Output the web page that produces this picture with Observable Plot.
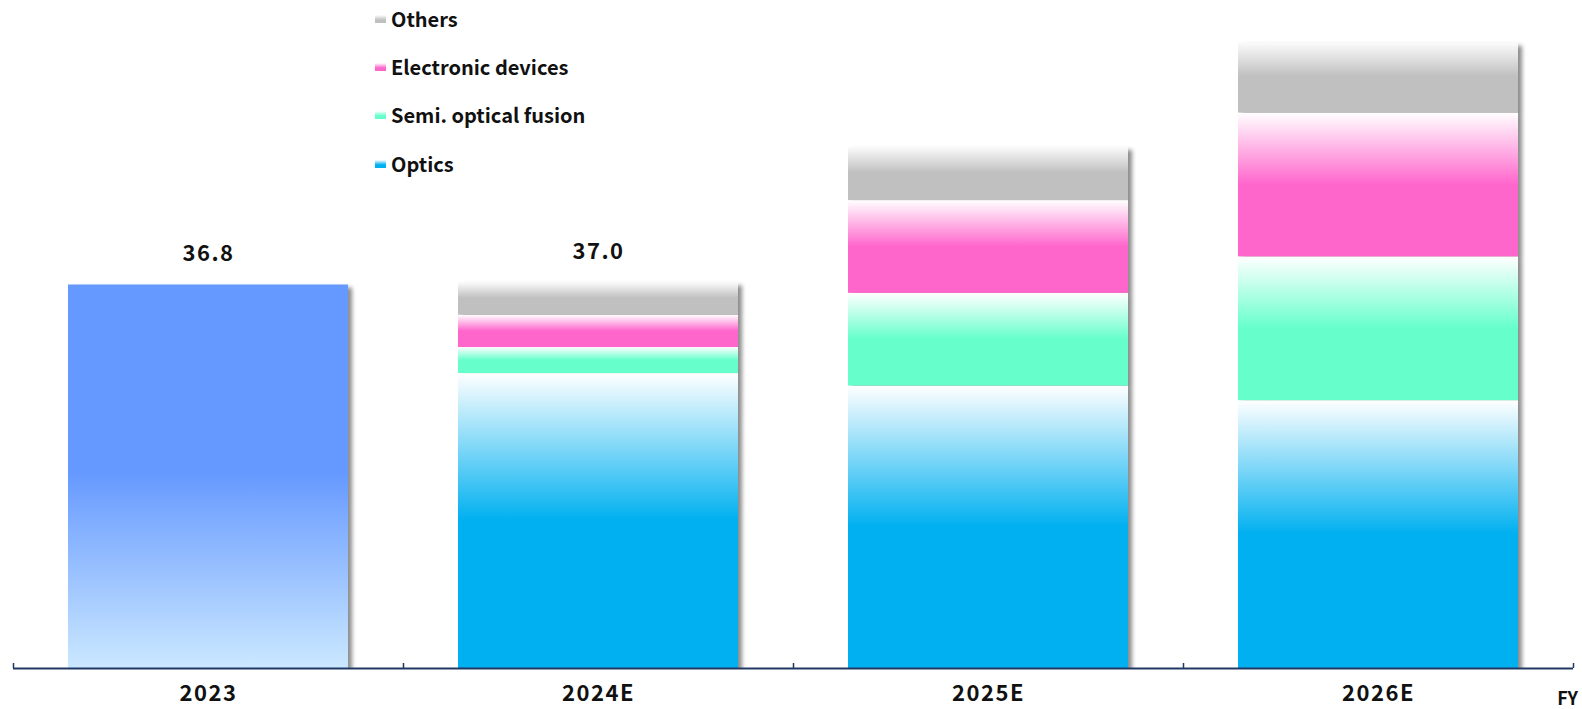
<!DOCTYPE html>
<html>
<head>
<meta charset="utf-8">
<script src="https://cdn.jsdelivr.net/npm/d3@7"></script>
<script src="https://cdn.jsdelivr.net/npm/@observablehq/plot@0.6"></script>
<style>
  html, body { margin: 0; padding: 0; background: #fff; }
  #wrap {
    position: relative; width: 1582px; height: 709px; overflow: hidden;
    font-family: "Noto Sans CJK JP", "Noto Sans", sans-serif; font-weight: 700; color: #111;
  }
  #legend { position: absolute; left: 375px; top: 0; }
  .row {
    position: absolute; left: 0; display: flex; align-items: center;
    white-space: nowrap; font-size: 20px; line-height: 20px;
  }
  .sw { width: 11px; height: 8px; margin-right: 5px; }
  #fy { position: absolute; right: 4px; top: 688px; font-size: 18px; line-height: 18px; }
</style>
</head>
<body>
<div id="wrap">
  <svg width="0" height="0" style="position:absolute">
    <defs>
      <linearGradient id="g-optics" x1="0" y1="0" x2="0" y2="1">
        <stop offset="0" stop-color="#ffffff"/>
        <stop offset="0.5" stop-color="#00b0f0"/>
        <stop offset="1" stop-color="#00b0f0"/>
      </linearGradient>
      <linearGradient id="g-semi" x1="0" y1="0" x2="0" y2="1">
        <stop offset="0" stop-color="#ffffff"/>
        <stop offset="0.5" stop-color="#66ffcc"/>
        <stop offset="1" stop-color="#66ffcc"/>
      </linearGradient>
      <linearGradient id="g-elec" x1="0" y1="0" x2="0" y2="1">
        <stop offset="0" stop-color="#ffffff"/>
        <stop offset="0.5" stop-color="#ff66cc"/>
        <stop offset="1" stop-color="#ff66cc"/>
      </linearGradient>
      <linearGradient id="g-others" x1="0" y1="0" x2="0" y2="1">
        <stop offset="0" stop-color="#fbfbfb"/>
        <stop offset="0.48" stop-color="#c0c0c0"/>
        <stop offset="1" stop-color="#c0c0c0"/>
      </linearGradient>
      <linearGradient id="g-total" x1="0" y1="0" x2="0" y2="1">
        <stop offset="0" stop-color="#6699ff"/>
        <stop offset="0.49" stop-color="#6699ff"/>
        <stop offset="1" stop-color="#cbe8ff"/>
      </linearGradient>
    </defs>
  </svg>
  <div id="chart"></div>
  <div id="legend"></div>
  <div id="fy">FY</div>
</div>
<script>
// Fiscal years on the x axis
const years = ["2023", "2024E", "2025E", "2026E"];

// FY2023 is shown as a single total
const totalYears = ["2023"];
const totalValues = [36.8];

// Segment breakdown for the forecast years
const segmentYears = ["2024E", "2025E", "2026E"];
const optics      = [28.3, 27.1, 25.7];
const semiOptical = [2.5, 8.9, 13.8];
const electronic  = [3.1, 8.9, 13.8];
const others      = [3.1, 5.1, 6.7];

// Series, bottom to top in the stack
const seriesNames = ["Optics", "Semi. optical fusion", "Electronic devices", "Others"];
const seriesValues = [optics, semiOptical, electronic, others];
const seriesFills = ["url(#g-optics)", "url(#g-semi)", "url(#g-elec)", "url(#g-others)"];
const swatchColors = ["#00b0f0", "#66ffcc", "#ff66cc", "#c0c0c0"];

// Years that carry a total label above the bar
const labelYears = ["2023", "2024E"];

const totalRows = totalYears.map((year, i) => ({year, value: totalValues[i]}));
const segmentRows = segmentYears.flatMap((year, i) =>
  seriesNames.map((series, j) => ({year, series, value: seriesValues[j][i]}))
);
const totals = new Map(totalRows.map(d => [d.year, d.value]));
for (const d of segmentRows) totals.set(d.year, (totals.get(d.year) ?? 0) + d.value);
const labelRows = labelYears.map(year => ({year, value: Math.round(totals.get(year) * 10) / 10}));

const width = 1582, height = 709;
const marginLeft = 13, marginRight = 9;
const step = (width - marginLeft - marginRight) / years.length;
const axisColor = "#203864";

const chart = Plot.plot({
  width, height,
  marginLeft, marginRight, marginTop: 0, marginBottom: 41,
  style: {fontFamily: '"Noto Sans CJK JP", "Noto Sans", sans-serif', fontWeight: "700", fontSize: "22px", color: "#111", background: "transparent"},
  x: {domain: years, paddingInner: 0.282, paddingOuter: 0.141},
  y: {domain: [0, 64.1], axis: null},
  color: {domain: seriesNames, range: seriesFills},
  marks: [
    Plot.barY(totalRows, {x: "year", y: "value", fill: "url(#g-total)", clip: true}),
    Plot.barY(segmentRows, {x: "year", y: "value", fill: "series", clip: true}),
    Plot.ruleY([0], {stroke: axisColor, strokeWidth: 2}),
    Plot.ruleX(years, {x: d => d, dx: -step / 2, y1: 0, y2: 0, insetTop: -5, stroke: axisColor, strokeWidth: 1.5}),
    Plot.ruleX(years.slice(-1), {x: d => d, dx: step / 2, y1: 0, y2: 0, insetTop: -5, stroke: axisColor, strokeWidth: 1.5}),
    Plot.axisX({tickSize: 0, tickPadding: 17, fontSize: 22, fontWeight: 700, label: null}),
    Plot.text(labelRows, {x: "year", y: "value", text: d => d.value.toFixed(1), dy: -31, fontSize: 22, fontWeight: 700, fill: "#111"})
  ]
});

// Soft drop shadow on the bars
chart.querySelectorAll('g[aria-label="bar"]').forEach(g => {
  g.style.filter = "drop-shadow(4px 3px 2px rgba(0,0,0,0.45))";
});
// Slight letter spacing on the numeric labels
chart.querySelectorAll('g[aria-label="text"] text, g[aria-label="x-axis tick label"] text').forEach(t => {
  t.setAttribute("letter-spacing", "1.5px");
});

document.getElementById("chart").appendChild(chart);

// Legend, top row first
const legend = document.getElementById("legend");
const rowCenters = [19, 67, 115, 164];
seriesNames.slice().reverse().forEach((name, k) => {
  const color = swatchColors[seriesNames.length - 1 - k];
  const row = document.createElement("div");
  row.className = "row";
  row.style.top = (rowCenters[k] - 10) + "px";
  const sw = document.createElement("div");
  sw.className = "sw";
  sw.style.background = `linear-gradient(to bottom, #ffffff 0%, ${color} 60%, ${color} 100%)`;
  const label = document.createElement("span");
  label.textContent = name;
  row.appendChild(sw);
  row.appendChild(label);
  legend.appendChild(row);
});
</script>
</body>
</html>
